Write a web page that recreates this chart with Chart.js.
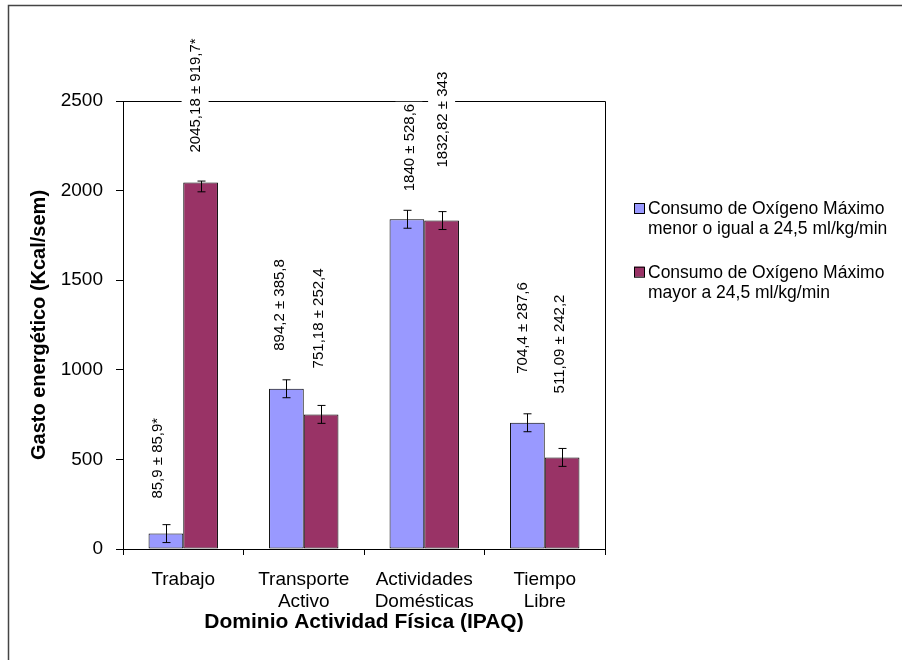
<!DOCTYPE html>
<html lang="es">
<head>
<meta charset="utf-8">
<title>Gasto energético por dominio de actividad física</title>
<script src="https://cdn.jsdelivr.net/npm/chart.js@4.4.1/dist/chart.umd.min.js"></script>
<style>
  html, body { margin: 0; padding: 0; background: #fff; }
  #wrap { width: 902px; height: 660px; }
</style>
</head>
<body>
<div id="wrap"><canvas id="grafico" width="902" height="660"></canvas></div>
<script>
// Datos
const categorias = ['Trabajo', ['Transporte', 'Activo'], ['Actividades', 'Domésticas'], ['Tiempo', 'Libre']];
const serieMenor = [85.9, 894.2, 1840, 704.4];
const serieMayor = [2045.18, 751.18, 1832.82, 511.09];
const errorMenor = [50, 50, 50, 50];
const errorMayorSup = [8, 50, 50, 50];
const errorMayorInf = [52, 50, 50, 50];
const etiquetasMenor = ['85,9 ± 85,9*', '894,2 ± 385,8', '1840 ± 528,6', '704,4 ± 287,6'];
const etiquetasMayor = ['2045,18 ± 919,7*', '751,18 ± 252,4', '1832,82 ± 343', '511,09 ± 242,2'];
const leyendaMenor = ['Consumo de Oxígeno Máximo', 'menor o igual a 24,5 ml/kg/min'];
const leyendaMayor = ['Consumo de Oxígeno Máximo', 'mayor a 24,5 ml/kg/min'];
const ticksY = [0, 500, 1000, 1500, 2000, 2500];

const FUENTE = '"Liberation Sans", Arial, sans-serif';
Chart.defaults.font.family = FUENTE;
Chart.defaults.color = '#000';

// Desplazamiento (px) de cada etiqueta: [dx, separación sobre la barra]
const posEtiquetas = [
    [[-9, 35], [-8, 38], [2, 28], [-6, 49]],
    [[-5.5, 30], [-3.5, 46], [0, 53], [-3, 64]]
];

// Plugin con el marco, barras de error, etiquetas rotadas y leyenda
const extras = {
    id: 'extras',
    beforeDraw(chart) {
        const ctx = chart.ctx;
        ctx.save();
        ctx.fillStyle = '#fff';
        ctx.fillRect(0, 0, chart.width, chart.height);
        ctx.strokeStyle = '#444';
        ctx.lineWidth = 1.5;
        ctx.beginPath();
        ctx.moveTo(8.5, chart.height);
        ctx.lineTo(8.5, 5.5);
        ctx.lineTo(chart.width, 5.5);
        ctx.stroke();
        ctx.restore();
    },
    afterDatasetsDraw(chart) {
        const ctx = chart.ctx;
        const area = chart.chartArea;
        const y = chart.scales.y;

        // Borde superior y derecho del área de trazado
        ctx.save();
        ctx.strokeStyle = '#000';
        ctx.lineWidth = 1;
        ctx.beginPath();
        ctx.moveTo(area.left, area.top + 0.5);
        ctx.lineTo(area.right + 0.5, area.top + 0.5);
        ctx.lineTo(area.right + 0.5, area.bottom);
        ctx.stroke();

        // Barras de error
        const errores = [[errorMenor, errorMenor], [errorMayorSup, errorMayorInf]];
        chart.data.datasets.forEach((ds, i) => {
            const meta = chart.getDatasetMeta(i);
            meta.data.forEach((bar, j) => {
                const x = Math.round(bar.x) + 0.5;
                const yTop = y.getPixelForValue(ds.data[j] + errores[i][0][j]);
                const yBot = y.getPixelForValue(ds.data[j] - errores[i][1][j]);
                ctx.beginPath();
                ctx.moveTo(x, yTop);
                ctx.lineTo(x, yBot);
                ctx.moveTo(x - 4, yTop);
                ctx.lineTo(x + 4, yTop);
                ctx.moveTo(x - 4, yBot);
                ctx.lineTo(x + 4, yBot);
                ctx.stroke();
            });
        });

        // Etiquetas verticales sobre las barras
        const etiquetas = [etiquetasMenor, etiquetasMayor];
        ctx.font = '15px ' + FUENTE;
        ctx.textAlign = 'left';
        ctx.textBaseline = 'middle';
        chart.data.datasets.forEach((ds, i) => {
            const meta = chart.getDatasetMeta(i);
            meta.data.forEach((bar, j) => {
                const [dx, sep] = posEtiquetas[i][j];
                const texto = etiquetas[i][j];
                const w = ctx.measureText(texto).width;
                ctx.save();
                ctx.translate(bar.x + dx, bar.y - sep);
                ctx.rotate(-Math.PI / 2);
                ctx.fillStyle = '#fff';
                ctx.fillRect(-2, -13.5, w + 4, 27);
                ctx.fillStyle = '#000';
                ctx.fillText(texto, 0, 1);
                ctx.restore();
            });
        });

        // Leyenda a la derecha
        const leyendas = [leyendaMenor, leyendaMayor];
        ctx.font = '17.5px ' + FUENTE;
        chart.data.datasets.forEach((ds, i) => {
            const y0 = 208 + i * 63.7;
            ctx.fillStyle = ds.backgroundColor;
            ctx.fillRect(634, y0 - 5, 10, 10);
            ctx.strokeStyle = '#000';
            ctx.strokeRect(634.5, y0 - 4.5, 10, 10);
            ctx.fillStyle = '#000';
            leyendas[i].forEach((linea, k) => {
                ctx.fillText(linea, 648, y0 + k * 20 + 1);
            });
        });
        ctx.restore();
    }
};

document.addEventListener('DOMContentLoaded', () => {
    const ctx = document.getElementById('grafico').getContext('2d');
    new Chart(ctx, {
        type: 'bar',
        data: {
            labels: categorias,
            datasets: [{
                label: leyendaMenor.join(' '),
                data: serieMenor,
                backgroundColor: '#9999FF',
                borderColor: '#000',
                borderWidth: 1,
                borderSkipped: false
            }, {
                label: leyendaMayor.join(' '),
                data: serieMayor,
                backgroundColor: '#993366',
                borderColor: '#000',
                borderWidth: 1,
                borderSkipped: false
            }]
        },
        options: {
            responsive: false,
            animation: false,
            categoryPercentage: 0.576,
            barPercentage: 1,
            layout: { padding: { top: 101, right: 297, left: 0, bottom: 0 } },
            plugins: {
                legend: { display: false },
                tooltip: { enabled: false }
            },
            scales: {
                x: {
                    grid: { drawOnChartArea: false, tickLength: 6, color: '#000', offset: true },
                    border: { color: '#000' },
                    ticks: { font: { size: 19 }, padding: 13, maxRotation: 0 },
                    title: {
                        display: true,
                        text: 'Dominio Actividad Física (IPAQ)',
                        font: { size: 21, weight: 'bold' },
                        padding: { top: 0, bottom: 25 }
                    },
                    afterFit: scale => { scale.height = 111; }
                },
                y: {
                    min: 0,
                    max: 2500,
                    afterBuildTicks: scale => { scale.ticks = ticksY.map(v => ({ value: v })); },
                    grid: { drawOnChartArea: false, tickLength: 7, color: '#000' },
                    border: { color: '#000' },
                    ticks: { font: { size: 19 }, padding: 13, callback: v => String(v) },
                    title: {
                        display: true,
                        text: 'Gasto energético (Kcal/sem)',
                        font: { size: 20, weight: 'bold' },
                        padding: { top: 27, bottom: 0 }
                    },
                    afterFit: scale => { scale.width = 123; }
                }
            }
        },
        plugins: [extras]
    });
});
</script>
</body>
</html>
